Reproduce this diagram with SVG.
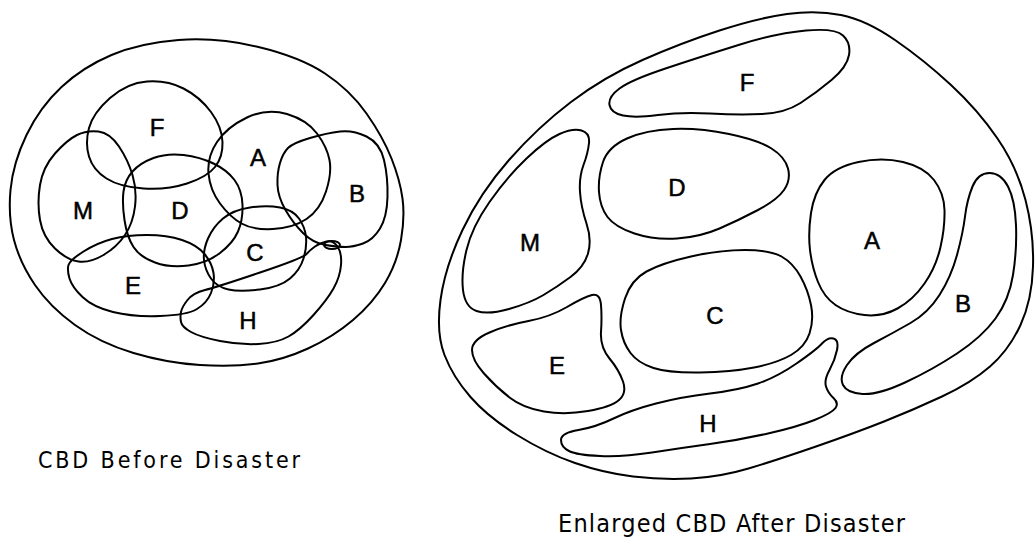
<svg xmlns="http://www.w3.org/2000/svg" width="1035" height="541" viewBox="0 0 1035 541">
<style>
.s{fill:none;stroke:#000;stroke-width:2;stroke-linejoin:round}
.l{font-family:"Liberation Sans",Arial,sans-serif;font-size:24px;text-anchor:middle;fill:#000;stroke:#000;stroke-width:0.5}
.cap{font-family:"DejaVu Sans","Liberation Sans",sans-serif;font-stretch:condensed;fill:#000}
</style>
<rect width="1035" height="541" fill="#fff"/>
<g id="before">
<path id="before-outer" class="s" d="M178.5,40 Q217,37 258.5,47 Q300,57 325,73.5 Q350,90 366.5,113.5 Q383,137 391.5,158.5 Q400,180 402.5,198.5 Q405,217 401,240 Q397,263 385,283 Q373,303 353,320 Q333,337 308,348.5 Q283,360 258,363.5 Q233,367 200,365 Q167,363 133.5,353 Q100,343 75,325 Q50,307 35,285 Q20,263 14,240 Q8,217 10.5,190 Q13,163 26.5,135 Q40,107 61.5,87 Q83,67 111.5,55 Q140,43 178.5,40 Z"/>
<g id="b-F"><path class="s" d="M110,98 Q127,83 147,81.5 Q167,80 183.5,88.5 Q200,97 211,112 Q222,127 222.5,142 Q223,157 215,167 Q207,177 187,183.5 Q167,190 143.5,188.5 Q120,187 106.5,178.5 Q93,170 89,156.5 Q85,143 89,128 Q93,113 110,98 Z"/><text class="l" x="157" y="136">F</text></g>
<g id="b-A"><path class="s" d="M247,117.5 Q267,108 287,114 Q307,120 317,133.5 Q327,147 329.5,160 Q332,173 326,191.5 Q320,210 306.5,219 Q293,228 273,229 Q253,230 241.5,223.5 Q230,217 220,203.5 Q210,190 208.5,173.5 Q207,157 217,142 Q227,127 247,117.5 Z"/><text class="l" x="258" y="166">A</text></g>
<g id="b-B"><path class="s" d="M288,148 Q293,143 310,138 Q327,133 340,131.5 Q353,130 366.5,136.5 Q380,143 384,160 Q388,177 387.5,197 Q387,217 380,228.5 Q373,240 363,243.5 Q353,247 345.5,247 Q338,247 325.5,245 Q313,243 303,233 Q293,223 285.5,210 Q278,197 277.5,185 Q277,173 280,163 Q283,153 288,148 Z"/><ellipse class="s" cx="332" cy="245" rx="8" ry="4"/><text class="l" x="357" y="202">B</text></g>
<g id="b-M"><path class="s" d="M55,153.5 Q67,140 77,135 Q87,130 98.5,131.5 Q110,133 119,146.5 Q128,160 132.5,175 Q137,190 135,206.5 Q133,223 125,235 Q117,247 103.5,255 Q90,263 78.5,261.5 Q67,260 55,248.5 Q43,237 40,220 Q37,203 40,185 Q43,167 55,153.5 Z"/><text class="l" x="83" y="219">M</text></g>
<g id="b-D"><path class="s" d="M132.5,171.5 Q140,163 153.5,158 Q167,153 183.5,155 Q200,157 213.5,163.5 Q227,170 234.5,180 Q242,190 242.5,205 Q243,220 238,231.5 Q233,243 220,253 Q207,263 188.5,265.5 Q170,268 155,262.5 Q140,257 133.5,247 Q127,237 124.5,220 Q122,203 123.5,191.5 Q125,180 132.5,171.5 Z"/><text class="l" x="180" y="219">D</text></g>
<g id="b-C"><path class="s" d="M223,218.5 Q233,210 250,207.5 Q267,205 280,207.5 Q293,210 299,218.5 Q305,227 306,237 Q307,247 303.5,258.5 Q300,270 290,278.5 Q280,287 260,289.5 Q240,292 228.5,289.5 Q217,287 211,278.5 Q205,270 204,260 Q203,250 208,238.5 Q213,227 223,218.5 Z"/><text class="l" x="255" y="261">C</text></g>
<g id="b-E"><path class="s" d="M68.5,265 Q70,260 83.5,251.5 Q97,243 112,239 Q127,235 147,235 Q167,235 182,240 Q197,245 204.5,254 Q212,263 213.5,273 Q215,283 211,293 Q207,303 197,309 Q187,315 160,316 Q133,317 113,312 Q93,307 82.5,297 Q72,287 69.5,278.5 Q67,270 68.5,265 Z"/><text class="l" x="133" y="294">E</text></g>
<g id="b-H"><path class="s" d="M181,312 Q182,307 187.5,300 Q193,293 205,290 Q217,287 260,272.5 Q303,258 306.5,254 Q310,250 315,246.5 Q320,243 326.5,241.5 Q333,240 337.5,246.5 Q342,253 341,265 Q340,277 333.5,288.5 Q327,300 313.5,315 Q300,330 288.5,336.5 Q277,343 258.5,344 Q240,345 220,341 Q200,337 191,332 Q182,327 181,322 Q180,317 181,312 Z"/><text class="l" x="248" y="329">H</text></g>
<text id="before-caption" class="cap" x="38" y="468" font-size="23" textLength="262" lengthAdjust="spacing">CBD Before Disaster</text>
</g>
<g id="after">
<path id="after-outer" class="s" d="M444.5,355 Q436,333 440.5,300 Q445,267 462.5,230 Q480,193 509,160 Q538,127 571,102 Q604,77 642.5,60 Q681,43 719.5,30.5 Q758,18 787,14 Q816,10 841,15 Q866,20 895,40 Q924,60 951,85 Q978,110 997.5,138.5 Q1017,167 1025.5,200 Q1034,233 1033,266.5 Q1032,300 1020.5,325 Q1009,350 990,366.5 Q971,383 942,396.5 Q913,410 884,421.5 Q855,433 816,446.5 Q777,460 748.5,468.5 Q720,477 691,478.5 Q662,480 633,476.5 Q604,473 575,463 Q546,453 517,435 Q488,417 470.5,397 Q453,377 444.5,355 Z"/>
<g id="a-F"><path class="s" d="M609.5,105 Q608,97 619.5,88.5 Q631,80 665.5,68.5 Q700,57 738.5,45 Q777,33 806,30.5 Q835,28 843,35.5 Q851,43 849,55 Q847,67 831.5,80 Q816,93 800.5,103 Q785,113 762,114 Q739,115 710,113.5 Q681,112 658,115 Q635,118 623,115.5 Q611,113 609.5,105 Z"/><text class="l" x="747" y="91">F</text></g>
<g id="a-D"><path class="s" d="M603,162 Q608,147 627,138.5 Q646,130 673,129 Q700,128 729,134 Q758,140 771.5,148.5 Q785,157 788,168.5 Q791,180 784,190 Q777,200 758,210 Q739,220 719.5,228.5 Q700,237 677,238.5 Q654,240 634.5,233.5 Q615,227 607.5,217 Q600,207 599,192 Q598,177 603,162 Z"/><text class="l" x="677" y="196">D</text></g>
<g id="a-M"><path class="s" d="M559.5,134 Q573,128 581.5,130.5 Q590,133 589,143 Q588,153 583.5,165 Q579,177 580,192 Q581,207 586.5,223.5 Q592,240 588,253.5 Q584,267 570.5,277 Q557,287 543.5,295 Q530,303 509,309 Q488,315 476.5,311 Q465,307 463,290 Q461,273 466.5,250 Q472,227 489.5,202 Q507,177 526.5,158.5 Q546,140 559.5,134 Z"/><text class="l" x="530" y="251">M</text></g>
<g id="a-A"><path class="s" d="M824.5,180 Q835,167 858.5,162 Q882,157 903,162 Q924,167 934,180 Q944,193 944.5,210 Q945,227 940.5,247 Q936,267 924.5,283.5 Q913,300 897.5,308.5 Q882,317 864.5,315 Q847,313 835.5,305 Q824,297 818,282 Q812,267 810,250 Q808,233 811,213 Q814,193 824.5,180 Z"/><text class="l" x="872" y="249">A</text></g>
<g id="a-B"><path class="s" d="M972.5,186.5 Q978,173 989.5,173 Q1001,173 1008,186.5 Q1015,200 1016,225 Q1017,250 1013,275 Q1009,300 995.5,318.5 Q982,337 957,353.5 Q932,370 905,382.5 Q878,395 862.5,394 Q847,393 843,385 Q839,377 847,365 Q855,353 874,343 Q893,333 910.5,323 Q928,313 939.5,295 Q951,277 957,255 Q963,233 965,216.5 Q967,200 972.5,186.5 Z"/><text class="l" x="963" y="312">B</text></g>
<g id="a-C"><path class="s" d="M625,298.5 Q631,280 646.5,271.5 Q662,263 691,256.5 Q720,250 745,250 Q770,250 781.5,256.5 Q793,263 800.5,276.5 Q808,290 811,305 Q814,320 809.5,333.5 Q805,347 791,355 Q777,363 754,367.5 Q731,372 700,372.5 Q669,373 653.5,368 Q638,363 630.5,353 Q623,343 621,330 Q619,317 625,298.5 Z"/><text class="l" x="715" y="324">C</text></g>
<g id="a-E"><path class="s" d="M472,350 Q472,340 489.5,332.5 Q507,325 528.5,321 Q550,317 567,307 Q584,297 592,295 Q600,293 601,305 Q602,317 601,332 Q600,347 609.5,358.5 Q619,370 623,381.5 Q627,393 619,400 Q611,407 588,411 Q565,415 544,411.5 Q523,408 509.5,397.5 Q496,387 484,373.5 Q472,360 472,350 Z"/><text class="l" x="557" y="374">E</text></g>
<g id="a-H"><path class="s" d="M561,440 Q561,433 578.5,430 Q596,427 613.5,418.5 Q631,410 656,403.5 Q681,397 710,393.5 Q739,390 758,383.5 Q777,377 796.5,363.5 Q816,350 822,343.5 Q828,337 833.5,338.5 Q839,340 837,350 Q835,360 829.5,370 Q824,380 826,386.5 Q828,393 833.5,398 Q839,403 835.5,408 Q832,413 814.5,420 Q797,427 768,433.5 Q739,440 710,444 Q681,448 652,452.5 Q623,457 600,456 Q577,455 569,451 Q561,447 561,440 Z"/><text class="l" x="708" y="432">H</text></g>
<text id="after-caption" class="cap" x="558" y="532" font-size="25" textLength="347" lengthAdjust="spacing">Enlarged CBD After Disaster</text>
</g>
</svg>
